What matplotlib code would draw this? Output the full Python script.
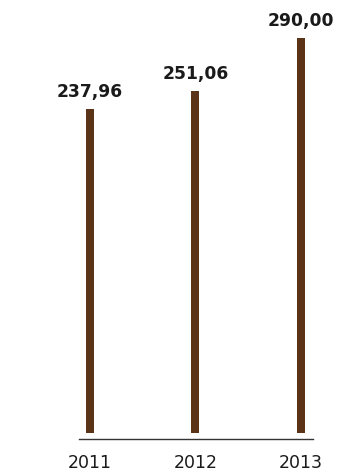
import matplotlib
matplotlib.use("Agg")
import matplotlib.pyplot as plt

plt.rcParams["font.family"] = ["DejaVu Sans"]

years = ["2011", "2012", "2013"]
values = [237.96, 251.06, 290.00]
labels = ["237,96", "251,06", "290,00"]

bar_color = "#5B3418"
text_color = "#1a1a1a"

fig = plt.figure(figsize=(3.37, 4.76), dpi=100)
ax = fig.add_axes([0.2344, 0.0777, 0.6944, 0.9223])

x = list(range(len(years)))
ax.bar(x, values, width=0.076, color=bar_color)

for xi, v, lab in zip(x, values, labels):
    ax.annotate(lab, (xi, v), xytext=(0, 8.6), textcoords="offset points",
                ha="center", va="baseline", fontsize=12.3, fontweight="bold",
                color=text_color, annotation_clip=False)

ax.set_xlim(-0.104, 2.114)
ax.set_ylim(-4.4, 318)
ax.set_xticks(x)
ax.set_xticklabels(years, fontsize=12.5, color=text_color)
ax.tick_params(axis="x", length=0, pad=10.5)
ax.set_yticks([])
for side in ("top", "right", "left"):
    ax.spines[side].set_visible(False)
ax.spines["bottom"].set_color("#333333")
ax.spines["bottom"].set_linewidth(1.0)

fig.savefig("out.png", dpi=100)
